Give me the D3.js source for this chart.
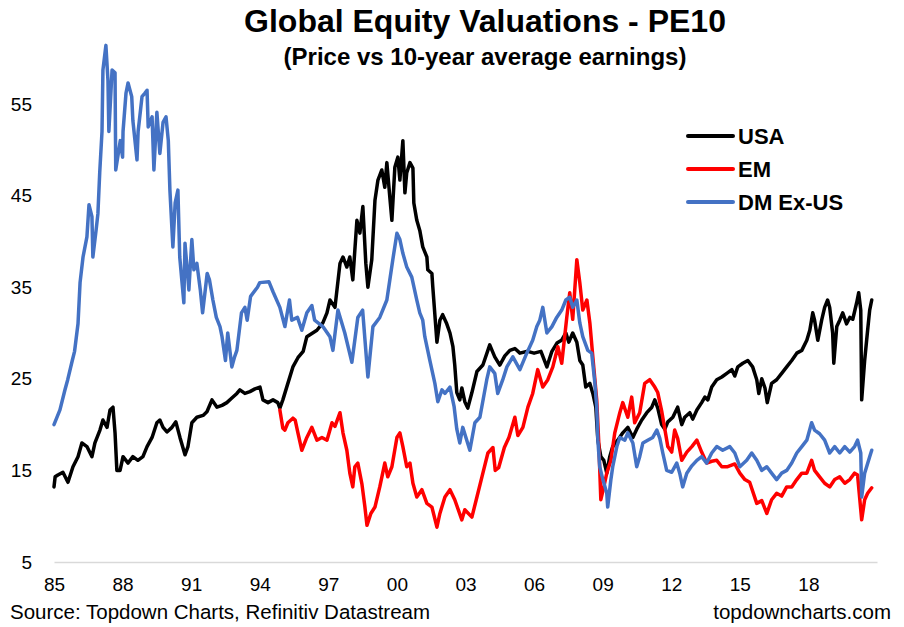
<!DOCTYPE html>
<html>
<head>
<meta charset="utf-8">
<title>Global Equity Valuations - PE10</title>
<script src="https://cdn.jsdelivr.net/npm/d3@7"></script>
<style>
  body { margin: 0; background: #fff; }
  svg text { font-family: "Liberation Sans", Arial, sans-serif; fill: #000; }
</style>
</head>
<body>
<svg id="chart" width="904" height="627"></svg>
<script>
// [decimal year, PE10]
var usa = [
  [1985.00, 13.2], [1985.05, 14.3], [1985.17, 14.5], [1985.39, 14.8], [1985.61, 13.7], [1985.83, 15.4],
  [1986.05, 16.5], [1986.22, 18.0], [1986.44, 17.6], [1986.66, 16.5], [1986.79, 18.0], [1987.01, 19.4],
  [1987.14, 20.5], [1987.32, 19.7], [1987.45, 21.6], [1987.58, 21.9], [1987.67, 19.1], [1987.75, 15.0],
  [1987.89, 15.0], [1988.02, 16.5], [1988.24, 15.8], [1988.45, 16.5], [1988.67, 16.1], [1988.89, 16.5],
  [1989.07, 17.6], [1989.29, 18.6], [1989.50, 20.2], [1989.63, 20.5], [1989.77, 19.7], [1989.94, 19.2],
  [1990.16, 19.7], [1990.33, 20.3], [1990.51, 18.6], [1990.73, 16.7], [1990.86, 17.6], [1991.03, 20.2],
  [1991.25, 20.8], [1991.52, 21.0], [1991.69, 21.4], [1991.91, 22.7], [1992.13, 21.9], [1992.35, 22.1],
  [1992.56, 22.4], [1992.78, 22.9], [1993.00, 23.4], [1993.13, 23.8], [1993.35, 23.4], [1993.57, 23.6],
  [1993.79, 23.9], [1994.01, 24.1], [1994.14, 22.7], [1994.36, 22.4], [1994.58, 22.7], [1994.79, 22.4],
  [1994.88, 21.8], [1995.01, 22.7], [1995.23, 24.5], [1995.45, 26.3], [1995.67, 27.3], [1995.90, 28.0],
  [1996.06, 29.6], [1996.50, 30.3], [1996.76, 31.1], [1996.94, 32.2], [1997.07, 33.6], [1997.29, 32.8],
  [1997.51, 37.6], [1997.64, 38.3], [1997.81, 37.2], [1997.94, 38.3], [1998.07, 35.8], [1998.25, 42.3],
  [1998.38, 40.9], [1998.51, 43.8], [1998.64, 37.6], [1998.73, 35.0], [1998.90, 38.0], [1999.04, 44.5],
  [1999.17, 46.7], [1999.34, 47.8], [1999.47, 45.9], [1999.56, 48.6], [1999.69, 44.8], [1999.78, 42.3],
  [1999.91, 48.1], [2000.04, 49.2], [2000.13, 46.7], [2000.26, 51.0], [2000.35, 45.3], [2000.43, 47.5],
  [2000.57, 48.6], [2000.70, 48.0], [2000.74, 44.2], [2000.87, 42.3], [2001.00, 41.2], [2001.13, 39.4],
  [2001.31, 38.3], [2001.35, 36.9], [2001.53, 36.5], [2001.57, 35.0], [2001.75, 29.0], [2001.88, 31.4],
  [2002.00, 32.0], [2002.18, 31.0], [2002.32, 30.0], [2002.45, 28.5], [2002.53, 26.5], [2002.62, 23.5],
  [2002.75, 22.7], [2002.84, 24.0], [2002.97, 22.5], [2003.10, 21.8], [2003.28, 23.5], [2003.50, 25.8],
  [2003.76, 26.5], [2004.06, 28.7], [2004.28, 27.4], [2004.50, 26.5], [2004.72, 27.5], [2004.94, 28.1],
  [2005.16, 28.3], [2005.38, 27.8], [2005.72, 28.0], [2006.00, 27.8], [2006.30, 28.0], [2006.56, 26.3],
  [2006.78, 28.0], [2007.00, 28.9], [2007.20, 29.2], [2007.39, 30.0], [2007.52, 29.0], [2007.69, 30.0],
  [2007.87, 29.0], [2008.00, 27.0], [2008.13, 26.5], [2008.26, 24.1], [2008.44, 24.5], [2008.57, 23.4],
  [2008.70, 21.9], [2008.79, 18.3], [2008.92, 16.5], [2009.05, 16.1], [2009.18, 14.7], [2009.31, 16.5],
  [2009.44, 17.6], [2009.66, 18.3], [2009.88, 19.1], [2010.10, 19.7], [2010.32, 18.6], [2010.49, 19.5],
  [2010.71, 20.5], [2010.93, 21.3], [2011.15, 21.9], [2011.28, 22.7], [2011.41, 21.8], [2011.58, 20.0],
  [2011.72, 19.5], [2011.85, 20.3], [2012.07, 20.8], [2012.28, 21.9], [2012.46, 20.0], [2012.59, 20.8],
  [2012.81, 21.3], [2012.94, 20.6], [2013.12, 21.6], [2013.33, 22.4], [2013.47, 23.0], [2013.60, 22.7],
  [2013.77, 24.1], [2013.99, 24.9], [2014.21, 25.2], [2014.43, 25.6], [2014.65, 26.0], [2014.78, 25.3],
  [2014.91, 26.3], [2015.13, 26.7], [2015.35, 27.0], [2015.56, 26.3], [2015.74, 24.9], [2015.83, 23.4],
  [2015.96, 25.0], [2016.10, 24.0], [2016.20, 22.4], [2016.39, 24.5], [2016.61, 24.9], [2016.83, 25.6],
  [2017.05, 26.3], [2017.27, 27.0], [2017.49, 27.8], [2017.71, 28.1], [2017.93, 29.2], [2018.06, 30.3],
  [2018.19, 32.2], [2018.27, 31.4], [2018.41, 29.2], [2018.58, 31.4], [2018.71, 32.8], [2018.84, 33.6],
  [2018.93, 32.8], [2019.06, 30.0], [2019.11, 26.7], [2019.24, 30.7], [2019.37, 31.4], [2019.50, 32.2],
  [2019.67, 31.0], [2019.81, 31.7], [2019.94, 31.5], [2020.11, 33.3], [2020.20, 34.4], [2020.29, 32.5],
  [2020.33, 22.7], [2020.46, 27.0], [2020.59, 30.3], [2020.68, 32.5], [2020.77, 33.6]
];

var em = [
  [1994.88, 21.6], [1995.01, 19.6], [1995.10, 19.4], [1995.23, 20.2], [1995.45, 20.7], [1995.55, 20.5],
  [1995.67, 19.1], [1995.84, 17.2], [1996.06, 18.6], [1996.28, 19.7], [1996.50, 18.3], [1996.72, 18.6],
  [1996.94, 18.3], [1997.16, 20.2], [1997.29, 19.8], [1997.51, 21.3], [1997.64, 19.1], [1997.81, 17.2],
  [1997.94, 14.7], [1998.07, 13.2], [1998.16, 15.4], [1998.29, 15.8], [1998.47, 13.5], [1998.60, 11.0],
  [1998.69, 9.0], [1998.86, 10.3], [1999.04, 11.0], [1999.25, 13.2], [1999.47, 15.8], [1999.60, 14.3],
  [1999.78, 15.4], [2000.00, 18.6], [2000.13, 19.1], [2000.26, 17.6], [2000.43, 15.4], [2000.57, 15.8],
  [2000.70, 13.6], [2000.87, 12.1], [2001.09, 12.9], [2001.31, 11.4], [2001.53, 11.0], [2001.75, 8.8],
  [2001.88, 10.3], [2002.10, 12.1], [2002.32, 12.9], [2002.53, 11.8], [2002.84, 9.6], [2002.97, 10.7],
  [2003.28, 9.9], [2003.50, 12.1], [2003.76, 14.7], [2003.98, 16.9], [2004.20, 17.5], [2004.30, 15.0],
  [2004.45, 15.3], [2004.70, 17.5], [2004.90, 18.6], [2005.16, 20.8], [2005.29, 18.8], [2005.51, 19.7],
  [2005.73, 21.9], [2005.94, 23.4], [2006.16, 26.0], [2006.38, 24.1], [2006.60, 24.9], [2006.82, 26.3],
  [2007.04, 28.5], [2007.21, 26.7], [2007.43, 31.7], [2007.56, 34.4], [2007.69, 31.5], [2007.87, 38.0],
  [2008.00, 35.5], [2008.13, 32.5], [2008.31, 33.6], [2008.44, 31.1], [2008.57, 27.4], [2008.74, 22.7],
  [2008.83, 18.0], [2008.92, 11.8], [2009.05, 13.2], [2009.18, 14.7], [2009.36, 16.1], [2009.53, 19.1],
  [2009.75, 21.3], [2009.88, 22.4], [2010.10, 20.8], [2010.27, 23.0], [2010.40, 20.2], [2010.62, 21.3],
  [2010.84, 24.5], [2011.06, 24.9], [2011.28, 24.1], [2011.41, 23.5], [2011.58, 21.5], [2011.72, 19.5],
  [2011.85, 17.6], [2012.02, 17.0], [2012.15, 19.4], [2012.28, 18.5], [2012.46, 16.1], [2012.68, 17.0],
  [2012.90, 17.6], [2013.12, 18.3], [2013.33, 17.0], [2013.55, 15.8], [2013.77, 16.0], [2013.99, 16.1],
  [2014.21, 15.4], [2014.47, 15.4], [2014.78, 15.7], [2015.00, 14.7], [2015.22, 14.0], [2015.43, 13.7],
  [2015.74, 11.4], [2015.96, 11.7], [2016.18, 10.3], [2016.39, 11.8], [2016.61, 12.5], [2016.83, 12.2],
  [2017.05, 13.2], [2017.27, 13.2], [2017.49, 14.0], [2017.71, 14.7], [2017.93, 14.7], [2018.14, 16.1],
  [2018.27, 15.0], [2018.49, 14.3], [2018.71, 13.6], [2018.93, 13.2], [2019.15, 14.0], [2019.37, 14.3],
  [2019.59, 13.6], [2019.81, 14.0], [2020.02, 14.7], [2020.15, 14.5], [2020.33, 9.6], [2020.46, 11.8],
  [2020.59, 12.5], [2020.77, 13.1]
];

var dmExUs = [
  [1985.00, 20.0], [1985.26, 21.6], [1985.48, 23.8], [1985.60, 24.9], [1985.80, 27.0], [1985.90, 28.0],
  [1986.05, 31.0], [1986.14, 35.5], [1986.27, 38.3], [1986.44, 40.5], [1986.53, 44.0], [1986.66, 42.7],
  [1986.70, 38.3], [1986.84, 41.2], [1986.92, 43.0], [1987.00, 47.5], [1987.10, 52.0], [1987.14, 58.7],
  [1987.27, 61.4], [1987.36, 57.6], [1987.40, 52.0], [1987.54, 58.7], [1987.67, 58.4], [1987.70, 47.8],
  [1987.90, 51.0], [1988.00, 49.2], [1988.02, 52.0], [1988.15, 56.2], [1988.24, 57.3], [1988.40, 55.8],
  [1988.45, 53.2], [1988.63, 48.9], [1988.68, 52.0], [1988.85, 55.8], [1988.98, 56.2], [1989.07, 56.5],
  [1989.12, 52.5], [1989.29, 53.6], [1989.37, 47.8], [1989.50, 54.1], [1989.63, 49.6], [1989.77, 53.0],
  [1989.90, 53.6], [1990.00, 51.0], [1990.07, 45.6], [1990.20, 39.4], [1990.30, 44.2], [1990.42, 45.6],
  [1990.50, 38.3], [1990.68, 33.3], [1990.73, 39.8], [1990.90, 34.7], [1991.03, 40.2], [1991.12, 36.9],
  [1991.25, 37.6], [1991.40, 34.7], [1991.50, 32.2], [1991.70, 36.5], [1991.80, 35.8], [1991.95, 33.6],
  [1992.10, 31.7], [1992.26, 30.7], [1992.35, 29.6], [1992.50, 27.0], [1992.60, 30.0], [1992.78, 26.3],
  [1992.90, 27.4], [1993.00, 28.1], [1993.20, 32.2], [1993.35, 32.8], [1993.45, 31.4], [1993.60, 34.0],
  [1993.90, 35.0], [1994.00, 35.5], [1994.40, 35.6], [1994.58, 34.5], [1994.88, 32.8], [1995.10, 30.7],
  [1995.30, 33.6], [1995.40, 31.4], [1995.65, 31.7], [1995.84, 30.3], [1996.06, 32.2], [1996.28, 33.0],
  [1996.40, 31.4], [1996.76, 30.7], [1997.07, 29.6], [1997.20, 28.1], [1997.42, 32.5], [1997.72, 30.0],
  [1998.03, 26.8], [1998.29, 31.7], [1998.50, 32.5], [1998.73, 25.2], [1998.95, 30.7], [1999.25, 31.7],
  [1999.56, 33.6], [1999.69, 35.8], [1999.82, 38.0], [2000.00, 40.9], [2000.13, 40.2], [2000.26, 38.7],
  [2000.43, 37.2], [2000.65, 36.1], [2000.87, 33.6], [2001.00, 32.2], [2001.13, 31.4], [2001.22, 29.6],
  [2001.44, 27.0], [2001.66, 24.5], [2001.79, 22.5], [2001.97, 23.8], [2002.10, 23.4], [2002.32, 24.1],
  [2002.50, 22.0], [2002.62, 19.5], [2002.75, 18.0], [2002.88, 19.7], [2003.19, 17.2], [2003.41, 20.2],
  [2003.63, 20.8], [2003.93, 24.9], [2004.06, 26.3], [2004.28, 25.6], [2004.41, 23.4], [2004.63, 24.9],
  [2004.81, 26.3], [2005.07, 27.4], [2005.38, 26.0], [2005.68, 27.8], [2005.94, 29.2], [2006.12, 30.7],
  [2006.25, 31.4], [2006.38, 32.8], [2006.56, 30.0], [2006.78, 30.7], [2006.99, 31.7], [2007.21, 32.5],
  [2007.39, 33.6], [2007.56, 33.9], [2007.69, 32.8], [2007.87, 33.6], [2008.00, 31.1], [2008.13, 29.6],
  [2008.35, 28.1], [2008.52, 27.8], [2008.66, 24.5], [2008.74, 21.9], [2008.79, 18.3], [2008.87, 15.4],
  [2009.01, 14.0], [2009.18, 12.5], [2009.22, 11.0], [2009.36, 14.0], [2009.44, 15.4], [2009.62, 17.6],
  [2009.75, 18.6], [2009.97, 18.3], [2010.10, 19.1], [2010.32, 18.0], [2010.49, 15.4], [2010.62, 16.5],
  [2010.76, 18.0], [2010.97, 18.3], [2011.19, 18.6], [2011.37, 19.4], [2011.50, 18.5], [2011.63, 16.9],
  [2011.80, 15.0], [2012.02, 14.8], [2012.24, 15.8], [2012.37, 14.7], [2012.50, 13.2], [2012.68, 14.7],
  [2012.90, 15.5], [2013.12, 16.1], [2013.33, 16.5], [2013.55, 15.8], [2013.77, 16.9], [2013.99, 17.6],
  [2014.25, 17.2], [2014.56, 17.6], [2014.78, 16.9], [2015.00, 15.4], [2015.30, 16.1], [2015.52, 16.9],
  [2015.74, 16.1], [2015.96, 15.0], [2016.18, 15.4], [2016.39, 14.7], [2016.61, 14.0], [2016.83, 14.7],
  [2017.05, 15.0], [2017.27, 15.8], [2017.49, 16.9], [2017.71, 17.6], [2017.93, 18.3], [2018.14, 20.2],
  [2018.27, 19.4], [2018.49, 19.0], [2018.71, 18.3], [2018.93, 16.9], [2019.15, 17.6], [2019.37, 16.9],
  [2019.59, 17.6], [2019.81, 17.0], [2020.02, 17.6], [2020.15, 18.3], [2020.29, 16.9], [2020.33, 12.1],
  [2020.46, 14.7], [2020.68, 16.5], [2020.77, 17.2]
];

var seriesNames = ['USA', 'EM', 'DM Ex-US'];
var seriesColors = ['#000000', '#ff0000', '#4472c4'];
var xTicks = [1985, 1988, 1991, 1994, 1997, 2000, 2003, 2006, 2009, 2012, 2015, 2018];
var yTicks = [5, 15, 25, 35, 45, 55];

var svg = d3.select('#chart');

var x = d3.scaleLinear()
  .domain([1985, 2021])
  .range([54, 877]);

var y = d3.scaleLinear()
  .domain([5, 55])
  .range([562, 104]);

// titles
svg.append('text')
  .attr('x', 485).attr('y', 32)
  .attr('text-anchor', 'middle')
  .style('font-size', '32px').style('font-weight', 'bold')
  .text('Global Equity Valuations - PE10');

svg.append('text')
  .attr('x', 485).attr('y', 65)
  .attr('text-anchor', 'middle')
  .style('font-size', '24px').style('font-weight', 'bold')
  .text('(Price vs 10-year average earnings)');

// x axis (the grey line at 5 doubles as the baseline)
var xAxis = svg.append('g')
  .attr('transform', 'translate(0,' + y(5) + ')')
  .call(d3.axisBottom(x).tickValues(xTicks).tickSize(0).tickPadding(16)
    .tickFormat(d => String(d).slice(2)));
xAxis.select('.domain').attr('stroke', '#d9d9d9').attr('stroke-width', 1.5);
xAxis.selectAll('text').style('font-size', '19px').style('font-family', '"Liberation Sans", Arial, sans-serif');

var yAxis = svg.append('g')
  .attr('transform', 'translate(32,0)')
  .call(d3.axisLeft(y).tickValues(yTicks).tickSize(0).tickPadding(0));
yAxis.select('.domain').remove();
yAxis.selectAll('text').style('font-size', '19px').style('font-family', '"Liberation Sans", Arial, sans-serif');

var line = d3.line()
  .x(d => x(d[0]))
  .y(d => y(d[1]));

[usa, em, dmExUs].forEach((s, i) => {
  svg.append('path')
    .datum(s)
    .attr('fill', 'none')
    .attr('stroke', seriesColors[i])
    .attr('stroke-width', 3.5)
    .attr('stroke-linejoin', 'round')
    .attr('stroke-linecap', 'round')
    .attr('d', line);
});

// legend
var legend = svg.append('g');
seriesNames.forEach((name, i) => {
  var ly = 136 + i * 33;
  legend.append('line')
    .attr('x1', 688).attr('x2', 733)
    .attr('y1', ly).attr('y2', ly)
    .attr('stroke', seriesColors[i])
    .attr('stroke-width', 4)
    .attr('stroke-linecap', 'round');
  legend.append('text')
    .attr('x', 738).attr('y', ly)
    .attr('dy', '0.36em')
    .style('font-size', '22px').style('font-weight', 'bold')
    .text(name);
});

// footer
svg.append('text')
  .attr('x', 10).attr('y', 619)
  .style('font-size', '20.5px')
  .text('Source: Topdown Charts, Refinitiv Datastream');

svg.append('text')
  .attr('x', 891).attr('y', 619)
  .attr('text-anchor', 'end')
  .style('font-size', '20.5px')
  .text('topdowncharts.com');
</script>
</body>
</html>
